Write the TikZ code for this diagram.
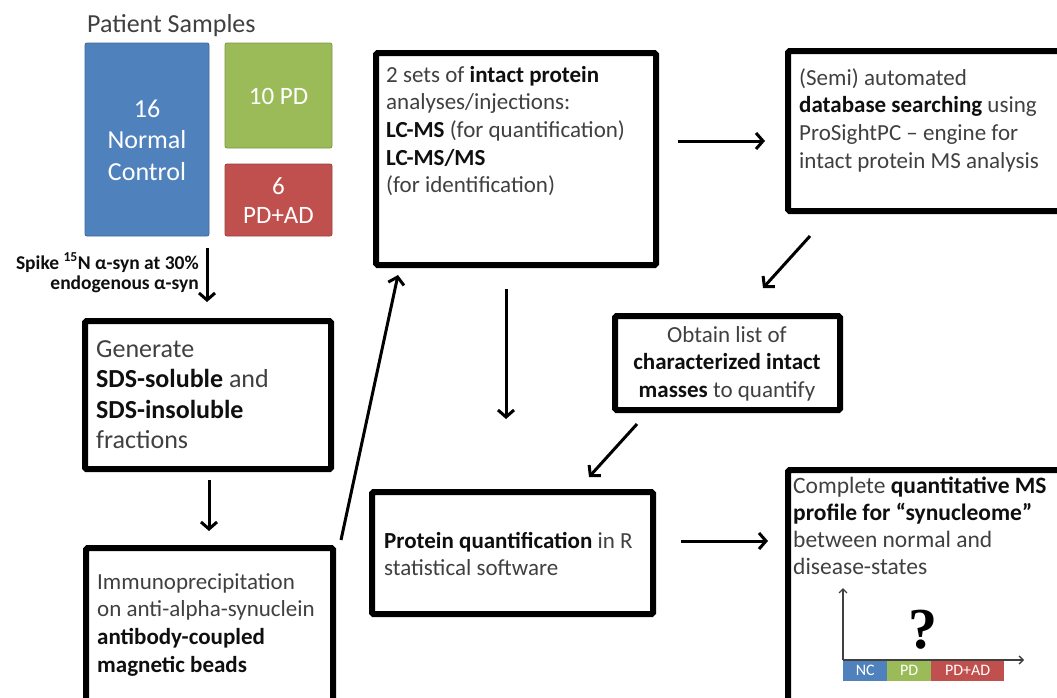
\documentclass[tikz,border=0pt]{standalone}
\usepackage{fontspec}
\setmainfont{Carlito}
\newfontfamily\qfont{Liberation Serif}
\usetikzlibrary{arrows.meta}
\definecolor{sblue}{RGB}{79,129,189}
\definecolor{sgreen}{RGB}{155,187,89}
\definecolor{sred}{RGB}{192,80,77}
\definecolor{txt}{RGB}{64,64,64}
\definecolor{btxt}{RGB}{15,15,15}
\newcommand\bb[1]{{\bfseries\color{btxt}#1}}
\newcommand\lpar[1]{\parbox[t]{330pt}{\raggedright #1}}
\newcommand\cpar[1]{\parbox[t]{240pt}{\centering #1}}
\begin{document}
\begin{tikzpicture}[x=1pt,y=-1pt,
  stepbox/.style={draw=black, line width=6pt, rounded corners=1.5pt, inner sep=0pt, fill=white},
  sample/.style={rounded corners=2pt, inner sep=0pt, line width=0.8pt},
  body/.style={inner sep=0pt, text=txt, font=\fontsize{23}{27.7}\selectfont},
  arr/.style={line width=3pt, -{Straight Barb[length=7pt,width=16pt]}},
  axisarr/.style={line width=1.3pt, black!75, -{Straight Barb[length=4pt,width=8pt]}},
  barbox/.style={inner sep=0pt, anchor=north west, minimum height=21pt, text=white, font=\fontsize{16}{16}\selectfont}]
\useasboundingbox (0,0) rectangle (1057,697);
\clip (0,0) rectangle (1057,697);
\fill[white] (0,0) rectangle (1057,697);

% patient samples
\node[inner sep=0pt, anchor=base west, text=txt, font=\fontsize{26}{26}\selectfont] (title) at (87,32) {Patient Samples};
\node[sample, fill=sblue, draw=sblue!80!black, minimum width=124pt, minimum height=193pt] (nc) at (147,139.5) {};
\node[sample, fill=sgreen, draw=sgreen!80!black, minimum width=107pt, minimum height=105pt] (pd) at (278.5,95.5) {};
\node[sample, fill=sred, draw=sred!80!black, minimum width=107pt, minimum height=72pt] (pdad) at (278.5,200) {};
\node[inner sep=0pt, anchor=base, text=white, font=\fontsize{26}{31.5}\selectfont] (nct) at (147,117) {\cpar{16\\Normal\\Control}};
\node[inner sep=0pt, anchor=base, text=white, font=\fontsize{25}{25}\selectfont] (pdt) at (278.5,104) {10 PD};
\node[inner sep=0pt, anchor=base, text=white, font=\fontsize{25}{29}\selectfont] (pdadt) at (278.5,194) {\cpar{6\\PD+AD}};

% spike label
\node[inner sep=0pt, anchor=base east, text=btxt, font=\bfseries\fontsize{19.5}{19.5}\selectfont] (spike) at (199,269.5)
  {\parbox[t]{230pt}{\raggedleft Spike \textsuperscript{15}N α-syn at 30\%\\ endogenous α-syn}};

% boxes (right and bottom ones run past the picture edge)
\node[stepbox, minimum width=246pt, minimum height=148pt] (gen) at (208,395) {};
\node[stepbox, minimum width=247pt, minimum height=160pt] (imm) at (209.5,628) {};
\node[stepbox, minimum width=280pt, minimum height=212pt] (sets) at (516,159) {};
\node[stepbox, minimum width=290pt, minimum height=160pt] (semi) at (933,131) {};
\node[stepbox, minimum width=225pt, minimum height=94pt] (obt) at (727.5,363) {};
\node[stepbox, minimum width=281pt, minimum height=122pt] (prot) at (512.5,553) {};
\node[stepbox, minimum width=290pt, minimum height=250pt] (comp) at (933,595) {};

% box texts
\node[body, anchor=base west, font=\fontsize{26}{30.5}\selectfont] (gent) at (96,357)
  {\lpar{Generate\\ \bb{SDS-soluble} and\\ \bb{SDS-insoluble}\\ fractions}};
\node[body, anchor=base west] (immt) at (97,589)
  {\lpar{Immunoprecipitation\\ on anti-alpha-synuclein\\ \bb{antibody-coupled}\\ \bb{magnetic beads}}};
\node[body, anchor=base west] (setst) at (386,82)
  {\lpar{2 sets of \bb{intact protein}\\ analyses/injections:\\ \bb{LC-MS} (for quantification)\\ \bb{LC-MS/MS}\\ (for identification)}};
\node[body, anchor=base west] (semit) at (799,85)
  {\lpar{(Semi) automated\\ \bb{database searching} using\\ ProSightPC – engine for\\ intact protein MS analysis}};
\node[body, anchor=base] (obtt) at (727,342)
  {\cpar{Obtain list of\\ \bb{characterized intact}\\ \bb{masses} to quantify}};
\node[body, anchor=base west] (prott) at (384,532)
  {\lpar{\bb{Protein quantification} in R\\ statistical software}};
\node[body, anchor=base west, font=\fontsize{23.5}{27.3}\selectfont] (compt) at (793,493)
  {\lpar{Complete \bb{quantitative MS}\\ \bb{profile for “synucleome”}\\ between normal and\\ disease-states}};

% chart
\node[barbox, fill=sblue, minimum width=44pt] (bnc) at (843,660) {NC};
\node[barbox, fill=sgreen, minimum width=44pt] (bpd) at (887,660) {PD};
\node[barbox, fill=sred, minimum width=73pt] (bpdad) at (931,660) {PD+AD};
\coordinate (orig) at (843,660);
\coordinate (ytop) at (843,588);
\coordinate (xend) at (1024,660);
\draw[axisarr] (orig) -- (ytop);
\draw[axisarr] (orig) -- (xend);
\node[inner sep=0pt, anchor=base, font=\qfont\bfseries\fontsize{58}{58}\selectfont] (qm) at (923,648) {?};

% arrows
\coordinate (a1s) at (207,248); \coordinate (a1e) at (207,302);
\coordinate (a2s) at (209,480); \coordinate (a2e) at (209,531);
\coordinate (a3s) at (341,540); \coordinate (a3e) at (398,275);
\coordinate (a4s) at (506,289); \coordinate (a4e) at (506,419);
\coordinate (a5s) at (678,141); \coordinate (a5e) at (765,141);
\coordinate (a6s) at (810,236); \coordinate (a6e) at (763,288);
\coordinate (a7s) at (637,424); \coordinate (a7e) at (589,477);
\coordinate (a8s) at (681,541); \coordinate (a8e) at (768,541);
\draw[arr] (a1s) -- (a1e);
\draw[arr] (a2s) -- (a2e);
\draw[arr] (a3s) -- (a3e);
\draw[arr] (a4s) -- (a4e);
\draw[arr] (a5s) -- (a5e);
\draw[arr] (a6s) -- (a6e);
\draw[arr] (a7s) -- (a7e);
\draw[arr] (a8s) -- (a8e);
\end{tikzpicture}
\end{document}
